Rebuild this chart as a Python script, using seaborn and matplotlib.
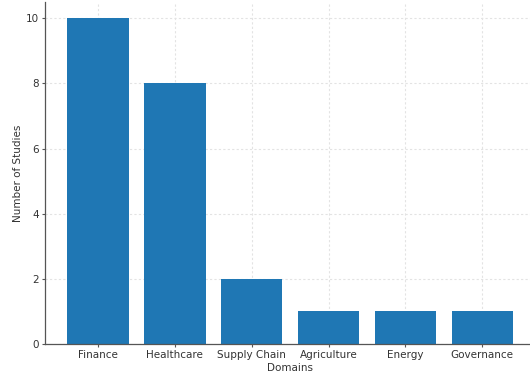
import matplotlib
matplotlib.use("Agg")
import matplotlib.pyplot as plt
import seaborn as sns
import pandas as pd

domains = ["Finance", "Healthcare", "Supply Chain", "Agriculture", "Energy", "Governance"]
studies = [10, 8, 2, 1, 1, 1]

df = pd.DataFrame({"Domains": domains, "Number of Studies": studies})

sns.set_style("ticks")
plt.rcParams["font.family"] = ["DejaVu Sans"]

fig = plt.figure(figsize=(5.30, 3.74), dpi=100)
ax = fig.add_axes([0.085, 0.08, 0.925, 0.915])

sns.barplot(data=df, x="Domains", y="Number of Studies", color="#1f77b4",
            saturation=1, width=0.8, linewidth=0, ax=ax, zorder=2)

ax.set_xlim(-0.69, 5.69)
ax.set_ylim(0, 10.5)
ax.set_yticks([0, 2, 4, 6, 8, 10])
ax.grid(True, linestyle=(0, (2, 2)), color="#e3e3e3", linewidth=0.8, zorder=0)
ax.set_axisbelow(True)
for s in ["top", "right"]:
    ax.spines[s].set_visible(False)
for s in ["left", "bottom"]:
    ax.spines[s].set_color("#555555")
    ax.spines[s].set_linewidth(0.9)
ax.tick_params(axis="both", labelsize=7.5, length=2.5, color="#555555",
               labelcolor="#333333", pad=2)
ax.set_xlabel("Domains", fontsize=7.5, color="#333333", labelpad=2)
ax.set_ylabel("Number of Studies", fontsize=7.5, color="#333333", labelpad=2)

fig.savefig("out.png", dpi=100)
